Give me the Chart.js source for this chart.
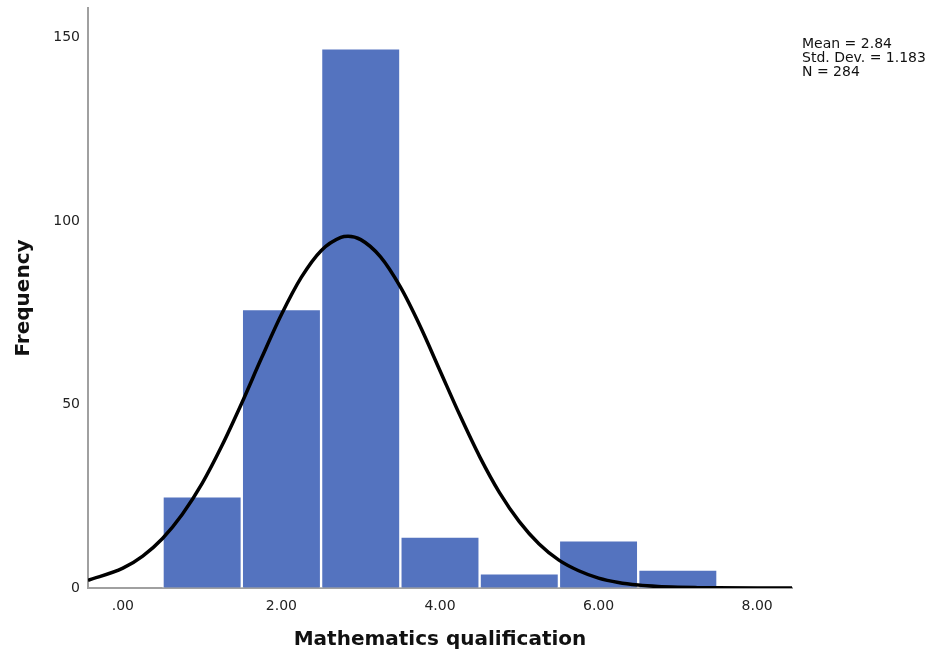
<!DOCTYPE html>
<html lang="en">
<head>
  <meta charset="UTF-8" />
  <title>Mathematics qualification histogram</title>
  <script src="https://cdn.jsdelivr.net/npm/chart.js"></script>
  <style>
    html, body { margin: 0; padding: 0; background: #fff; }
    #wrap { width: 936px; height: 661px; }
  </style>
</head>
<body>
  <div id="wrap"><canvas id="histChart" width="936" height="661"></canvas></div>

  <script>
    // histogram bins (bin centres) and frequencies
    const binCenters = [1, 2, 3, 4, 5, 6, 7];
    const frequencies = [25, 76, 147, 14, 4, 13, 5];

    // fitted normal curve
    const curveX = [-0.44, 0, 0.25, 0.5, 0.75, 1, 1.25, 1.5, 1.75, 2, 2.25, 2.5, 2.75, 2.84, 3, 3.25, 3.5, 3.75, 4, 4.25, 4.5, 4.75, 5, 5.25, 5.5, 5.75, 6, 6.25, 6.5, 6.75, 7, 7.25, 7.5, 8, 8.44];
    const curveY = [2.1, 5.4, 8.7, 13.5, 20.1, 28.5, 38.8, 50.4, 62.7, 74.5, 84.6, 91.9, 95.5, 95.8, 94.9, 90.2, 82.0, 71.3, 59.2, 47.1, 35.8, 26.0, 18.1, 12.0, 7.6, 4.7, 2.7, 1.5, 0.8, 0.4, 0.2, 0.1, 0.04, 0, 0];

    const xTicks = [0, 2, 4, 6, 8];
    const yTicks = [0, 50, 100, 150];
    const statsLines = ['Mean = 2.84', 'Std. Dev. = 1.183', 'N = 284'];

    const FONT = "'DejaVu Sans', sans-serif";

    const statsBox = {
      id: 'statsBox',
      afterDraw(chart) {
        const ctx = chart.ctx;
        ctx.save();
        ctx.font = '14px ' + FONT;
        ctx.fillStyle = '#111';
        ctx.textAlign = 'left';
        ctx.textBaseline = 'alphabetic';
        statsLines.forEach((t, i) => ctx.fillText(t, 802, 48 + i * 14));
        ctx.restore();
      }
    };

    new Chart(document.getElementById('histChart'), {
      data: {
        datasets: [
          {
            type: 'line',
            data: curveX.map((x, i) => ({ x, y: curveY[i] })),
            borderColor: '#000',
            borderWidth: 3.5,
            pointRadius: 0,
            cubicInterpolationMode: 'monotone',
            fill: false,
            order: 0
          },
          {
            type: 'bar',
            data: binCenters.map((x, i) => ({ x, y: frequencies[i] })),
            backgroundColor: '#5473bf',
            borderColor: '#ffffff',
            borderWidth: 1.5,
            barPercentage: 1,
            categoryPercentage: 1,
            order: 1
          }
        ]
      },
      options: {
        responsive: false,
        animation: false,
        layout: { padding: { top: 8, right: 144, left: 0, bottom: 0 } },
        plugins: { legend: { display: false }, tooltip: { enabled: false } },
        scales: {
          x: {
            type: 'linear',
            offset: false,
            min: -0.44,
            max: 8.44,
            afterBuildTicks: s => { s.ticks = xTicks.map(v => ({ value: v })); },
            afterFit: s => { s.height = 73; s.paddingLeft = 0; s.paddingRight = 0; },
            grid: { drawOnChartArea: false, drawTicks: false, offset: false },
            border: { display: true, color: '#a0a0a0', width: 2 },
            ticks: {
              color: '#222',
              font: { family: FONT, size: 14 },
              padding: 10,
              maxRotation: 0,
              callback: v => v === 0 ? '.00' : v.toFixed(2)
            },
            title: {
              display: true,
              text: 'Mathematics qualification',
              color: '#111',
              font: { family: FONT, size: 20, weight: 'bold' },
              padding: { top: 0, bottom: 9 }
            }
          },
          y: {
            type: 'linear',
            min: 0,
            max: 158,
            afterBuildTicks: s => { s.ticks = yTicks.map(v => ({ value: v })); },
            afterFit: s => { s.width = 88; s.paddingTop = 0; s.paddingBottom = 0; },
            grid: { drawOnChartArea: false, drawTicks: false },
            border: { display: true, color: '#a0a0a0', width: 2 },
            ticks: {
              color: '#222',
              font: { family: FONT, size: 14 },
              padding: 8
            },
            title: {
              display: true,
              text: 'Frequency',
              color: '#111',
              font: { family: FONT, size: 20, weight: 'bold' },
              padding: { top: 12, bottom: 0 }
            }
          }
        }
      },
      plugins: [statsBox]
    });
  </script>
</body>
</html>
